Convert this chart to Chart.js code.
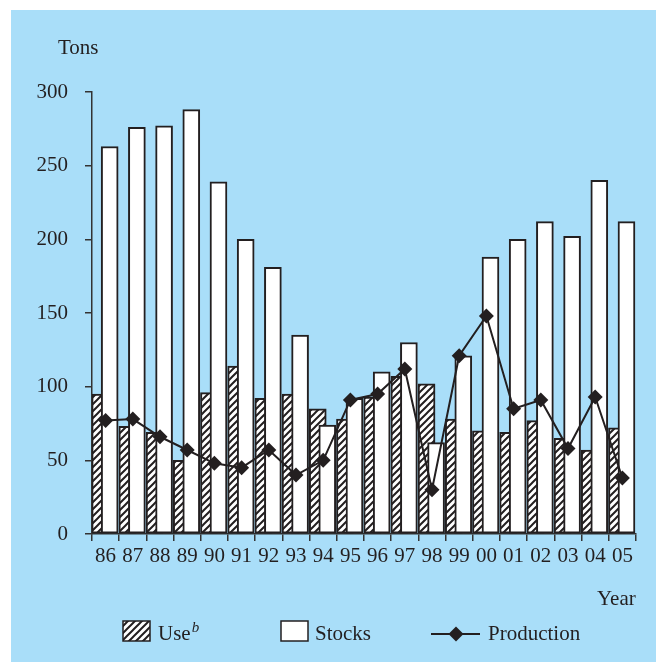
<!DOCTYPE html>
<html>
<head>
<meta charset="utf-8">
<script src="https://cdn.jsdelivr.net/npm/chart.js@4.4.0/dist/chart.umd.min.js"></script>
<style>
  body { margin: 0; background: #fff; }
  canvas { display: block; }
</style>
</head>
<body>
<canvas id="chart" width="656" height="662"></canvas>
<script>
var years = ['86','87','88','89','90','91','92','93','94','95','96','97','98','99','00','01','02','03','04','05'];
var useData = [95, 73, 69, 50, 96, 114, 92, 95, 85, 78, 93, 107, 102, 78, 70, 69, 77, 65, 57, 72];
var stocksData = [263, 276, 277, 288, 239, 200, 181, 135, 74, 92, 110, 130, 62, 121, 188, 200, 212, 202, 240, 212];
var productionData = [77, 78, 66, 57, 48, 45, 57, 40, 50, 91, 95, 112, 30, 121, 148, 85, 91, 58, 93, 38];
var yTicks = [0, 50, 100, 150, 200, 250, 300];

var ink = '#231f20';
var bg = '#a9def9';
var font = 'Liberation Serif, Times New Roman, serif';

var canvas = document.getElementById('chart');
var ctx = canvas.getContext('2d');

function makeHatch(size) {
    var c = document.createElement('canvas');
    c.width = size; c.height = size;
    var g = c.getContext('2d');
    g.fillStyle = '#fff';
    g.fillRect(0, 0, size, size);
    g.strokeStyle = ink;
    g.lineWidth = 2;
    g.beginPath();
    g.moveTo(0, size); g.lineTo(size, 0);
    g.moveTo(-1, 1); g.lineTo(1, -1);
    g.moveTo(size - 1, size + 1); g.lineTo(size + 1, size - 1);
    g.stroke();
    return ctx.createPattern(c, 'repeat');
}
var hatch = makeHatch(7);

// points for the bars: x is just the year index
function pts(arr) {
    return arr.map(function(v, i){ return {x: i, y: v}; });
}

// hidden index axis for a bar series, shifted inside each year slot
function slotAxis(shift) {
    return {
        type: 'linear', display: false, offset: false, bounds: 'data',
        min: -shift, max: years.length - shift,
        afterDataLimits: function(s){ s.min = -shift; s.max = years.length - shift; }
    };
}

var decor = {
    id: 'decor',
    beforeDraw: function(chart) {
        var c = chart.ctx;
        c.save();
        c.fillStyle = bg;
        c.fillRect(11, 10, chart.width - 11, chart.height - 10);
        c.restore();
    },
    afterDraw: function(chart) {
        var c = chart.ctx;
        c.save();
        c.fillStyle = ink;
        c.font = '21px ' + font;
        c.textBaseline = 'alphabetic';
        c.fillText('Tons', 58, 54);
        c.fillText('Year', 597, 605);

        // legend
        var ly = 621, lh = 20;
        c.fillStyle = hatch;
        c.fillRect(123, ly, 27, lh);
        c.strokeStyle = ink; c.lineWidth = 1.5;
        c.strokeRect(123, ly, 27, lh);
        c.fillStyle = ink;
        c.fillText('Use', 158, 640);
        var w = c.measureText('Use').width;
        c.font = 'italic 15px ' + font;
        c.fillText('b', 158 + w + 1, 632);

        c.font = '21px ' + font;
        c.fillStyle = '#fff';
        c.fillRect(281, ly, 27, lh);
        c.strokeRect(281, ly, 27, lh);
        c.fillStyle = ink;
        c.fillText('Stocks', 315, 640);

        c.lineWidth = 2;
        c.beginPath();
        c.moveTo(431, 634); c.lineTo(480, 634);
        c.stroke();
        c.beginPath();
        c.moveTo(456, 626.5); c.lineTo(463.5, 634); c.lineTo(456, 641.5); c.lineTo(448.5, 634);
        c.closePath();
        c.fill();
        c.fillText('Production', 488, 640);
        c.restore();
    }
};

new Chart(canvas, {
    type: 'bar',
    data: {
        labels: years,
        datasets: [{
            type: 'line',
            label: 'Production',
            data: productionData,
            xAxisID: 'x',
            borderColor: ink,
            borderWidth: 2,
            pointStyle: 'rectRot',
            pointRadius: 7.5,
            pointBackgroundColor: ink,
            pointBorderColor: ink,
            pointBorderWidth: 0,
            tension: 0,
            order: 0
        }, {
            label: 'Stocks',
            data: pts(stocksData),
            xAxisID: 'xs',
            backgroundColor: '#fff',
            borderColor: ink,
            borderWidth: 2,
            borderSkipped: false,
            barThickness: 17,
            grouped: false,
            order: 1
        }, {
            label: 'Use',
            data: pts(useData),
            xAxisID: 'xu',
            backgroundColor: hatch,
            borderColor: ink,
            borderWidth: 2,
            borderSkipped: false,
            barThickness: 17,
            grouped: false,
            order: 2
        }]
    },
    options: {
        responsive: false,
        animation: false,
        devicePixelRatio: 1,
        layout: { padding: { left: 0, top: 92, right: 20, bottom: 0 } },
        plugins: {
            legend: { display: false },
            tooltip: { enabled: false }
        },
        scales: {
            x: {
                type: 'category',
                offset: true,
                grid: { offset: true, drawOnChartArea: false, drawTicks: true, tickLength: 7, color: '#333', lineWidth: 1.5 },
                border: { display: true, color: '#333', width: 1.5 },
                ticks: { color: ink, font: { family: font, size: 21 }, padding: 3, autoSkip: false, maxRotation: 0 },
                afterFit: function(s){ s.height = 128; }
            },
            xu: slotAxis(0.3),
            xs: slotAxis(0.65),
            y: {
                min: yTicks[0],
                max: yTicks[yTicks.length - 1],
                grid: { drawOnChartArea: false, drawTicks: true, tickLength: 7, color: '#333', lineWidth: 1.5 },
                border: { display: true, color: '#333', width: 1.5 },
                ticks: { stepSize: yTicks[1] - yTicks[0], color: ink, font: { family: font, size: 21 }, padding: 17 },
                afterFit: function(s){ s.width = 92; }
            }
        }
    },
    plugins: [decor]
});
</script>
</body>
</html>
